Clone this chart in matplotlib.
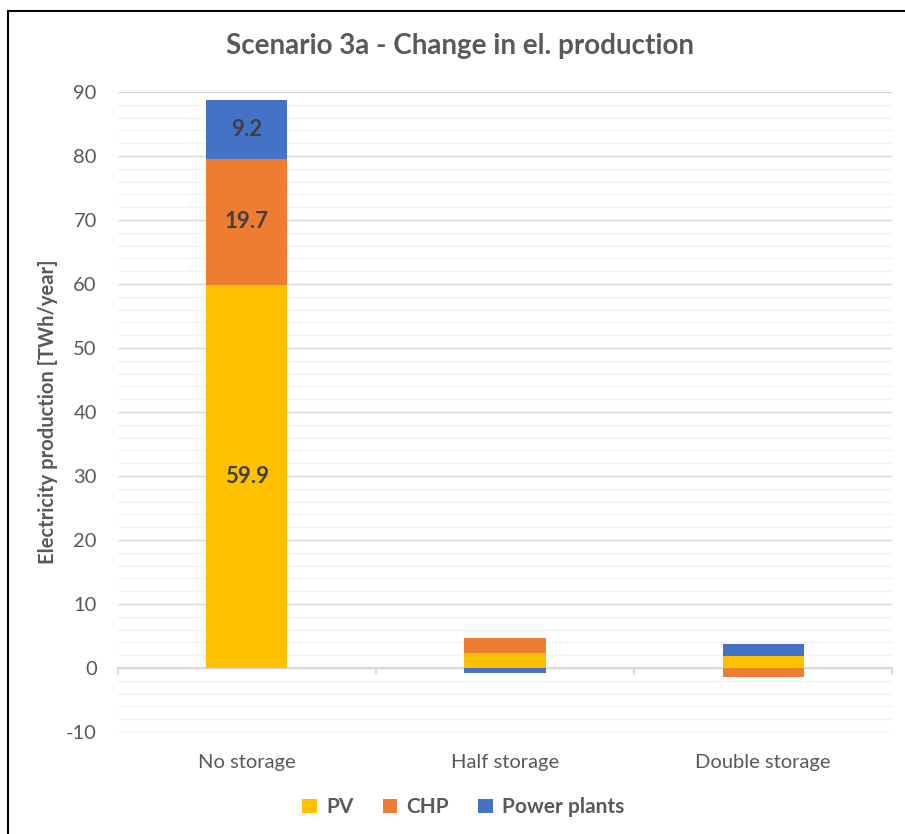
import matplotlib.pyplot as plt
import numpy as np
from matplotlib.patches import Rectangle
from matplotlib.ticker import MultipleLocator

plt.rcParams["font.family"] = ["Lato", "DejaVu Sans"]
plt.rcParams["axes.unicode_minus"] = False

categories = ["No storage", "Half storage", "Double storage"]
pv = [59.9, 2.3, 1.9]
chp = [19.7, 2.4, -1.4]
power_plants = [9.2, -0.8, 1.9]
series_names = ["PV", "CHP", "Power plants"]
colors = ["#FFC000", "#ED7D31", "#4472C4"]
labelled = [True, False, False]

TEXT = "#595959"

fig = plt.figure(figsize=(9.05, 8.34), dpi=100)
ax = fig.add_axes([0.130, 0.1223, 0.856, 0.7674])

x = np.arange(len(categories))
width = 0.315

# stack positives upward and negatives downward, like Excel does
pos_base = np.zeros(len(x))
neg_base = np.zeros(len(x))
for name, vals, color in zip(series_names, [pv, chp, power_plants], colors):
    vals = np.array(vals)
    bottoms = np.where(vals >= 0, pos_base, neg_base)
    ax.bar(x, vals, width, bottom=bottoms, color=color, label=name, zorder=3)
    for i, v in enumerate(vals):
        if labelled[i]:
            ax.text(x[i], bottoms[i] + v / 2, f"{v:.1f}", ha="center", va="center",
                    fontsize=16, fontweight="bold", color="#404040", zorder=4)
    pos_base += np.where(vals >= 0, vals, 0)
    neg_base += np.where(vals < 0, vals, 0)

ax.set_xlim(-0.5, len(categories) - 0.5)
ax.set_ylim(-10, 90)
ax.yaxis.set_major_locator(MultipleLocator(10))
ax.yaxis.set_minor_locator(MultipleLocator(2))
ax.grid(which="major", axis="y", color="#D9D9D9", linewidth=1.0, zorder=0)
ax.grid(which="minor", axis="y", color="#F2F2F2", linewidth=1.0, zorder=0)
ax.tick_params(axis="y", which="both", length=0, labelsize=14.5, labelcolor=TEXT, pad=15)
ax.set_xticks(x)
ax.set_xticklabels(categories)
ax.tick_params(axis="x", length=0, labelsize=14.5, labelcolor=TEXT, pad=16)
for s in ax.spines.values():
    s.set_visible(False)

# horizontal category axis at zero with tick marks between categories
ax.axhline(0, color="#D9D9D9", linewidth=1.5, zorder=2)
for b in np.arange(len(categories) + 1) - 0.5:
    ax.plot([b, b], [0, -0.8], color="#D9D9D9", linewidth=1.5, zorder=2, clip_on=False)

ax.set_ylabel("Electricity production [TWh/year]", fontsize=14.5, fontweight="bold",
              color=TEXT, labelpad=6)
fig.suptitle("Scenario 3a - Change in el. production", x=0.508, y=0.96,
             fontsize=20, fontweight="bold", color=TEXT)

leg = fig.legend(loc="center", bbox_to_anchor=(0.512, 0.032), ncol=3, frameon=False,
                 handlelength=0.7, handleheight=0.7, handletextpad=0.45, columnspacing=1.4,
                 prop={"size": 15, "weight": "bold"})
for t in leg.get_texts():
    t.set_color(TEXT)

# chart frame (cropped on right and bottom in the original)
fig.patches.append(Rectangle((8 / 905, -0.02), 1.0, 1 - 11 / 834 + 0.02, transform=fig.transFigure,
                             fill=False, edgecolor="black", linewidth=1.5))

fig.savefig("out.png", dpi=100)
